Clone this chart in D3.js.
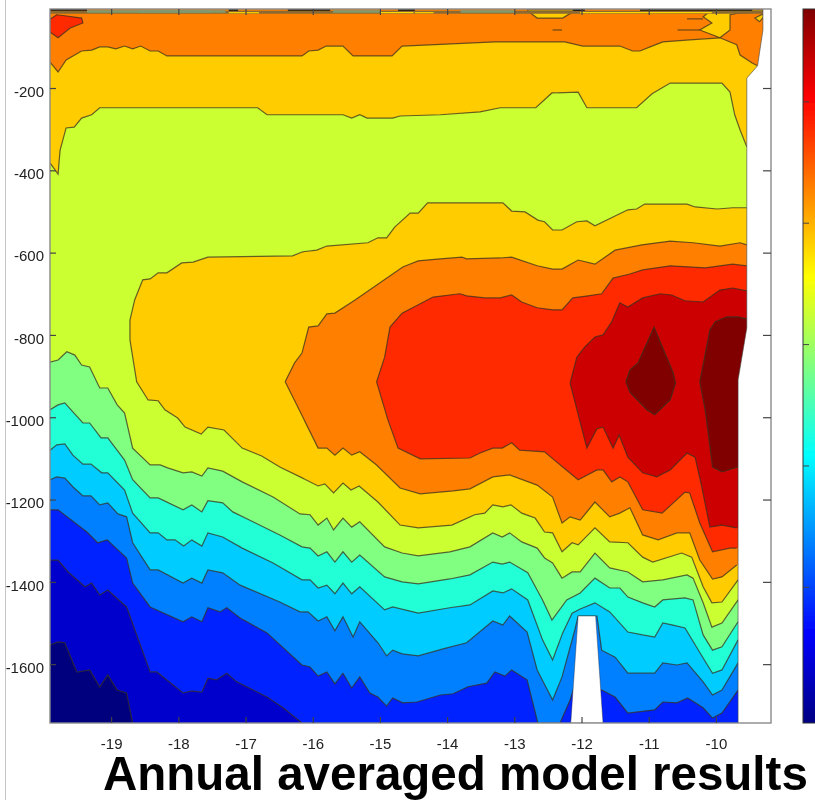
<!DOCTYPE html>
<html>
<head>
<meta charset="utf-8">
<title>Annual averaged model results</title>
<script src="https://cdn.jsdelivr.net/npm/d3@7"></script>
<style>
body { margin: 0; background: #fff; }
text { font-family: "Liberation Sans", Arial, sans-serif; fill: #222; }
</style>
</head>
<body>
<svg id="chart" width="815" height="800"></svg>
<script>
// longitude / depth of each contour
const lonTicks = [-19, -18, -17, -16, -15, -14, -13, -12, -11, -10];
const depthTicks = [-200, -400, -600, -800, -1000, -1200, -1400, -1600];

const orangeYellowTop = [[-19.91,-137],[-19.79,-161],[-19.67,-132],[-19.44,-110],[-19.29,-108],[-19.17,-100],[-19.05,-100],[-18.93,-105],[-18.80,-98],[-18.68,-105],[-18.56,-98],[-18.42,-110],[-18.30,-110],[-18.17,-122],[-16.16,-122],[-16.06,-110],[-15.92,-108],[-15.80,-98],[-15.55,-98],[-15.40,-122],[-14.82,-122],[-14.67,-98],[-13.29,-88],[-12.25,-88],[-11.98,-98],[-11.43,-98],[-11.24,-110],[-11.13,-110],[-10.98,-100],[-10.79,-88],[-10.39,-83],[-9.94,-78],[-9.69,-95],[-9.64,-120],[-9.46,-139],[-9.38,-146]];
const yellowLimeTop = [[-19.91,-382],[-19.79,-409],[-19.76,-351],[-19.67,-297],[-19.55,-295],[-19.44,-273],[-19.29,-265],[-19.17,-248],[-16.82,-248],[-16.68,-265],[-15.55,-265],[-15.42,-273],[-15.30,-265],[-15.19,-273],[-14.81,-273],[-14.70,-268],[-14.10,-265],[-13.51,-258],[-13.21,-248],[-12.68,-248],[-12.44,-212],[-12.05,-210],[-11.92,-248],[-11.18,-248],[-10.95,-214],[-10.68,-188],[-9.91,-188],[-9.79,-210],[-9.72,-265],[-9.64,-302],[-9.54,-343]];

const yellowCoreUpper = [[-18.72,-764],[-18.65,-715],[-18.53,-666],[-18.42,-664],[-18.30,-649],[-18.17,-649],[-17.95,-625],[-17.78,-623],[-17.56,-611],[-16.30,-608],[-16.15,-598],[-15.94,-594],[-15.79,-584],[-15.18,-576],[-15.03,-564],[-14.90,-564],[-14.78,-538],[-14.55,-504],[-14.43,-504],[-14.29,-479],[-13.17,-479],[-13.04,-499],[-12.84,-501],[-12.65,-521],[-12.55,-525],[-12.43,-545],[-12.29,-545],[-12.07,-525],[-11.92,-523],[-11.80,-535],[-11.31,-496],[-11.18,-494],[-11.06,-482],[-10.43,-482],[-10.31,-489],[-9.98,-494],[-9.75,-491],[-9.54,-491]];
const yellowCoreLower = [[-18.72,-764],[-18.72,-812],[-18.62,-914],[-18.45,-958],[-18.30,-960],[-18.20,-982],[-18.01,-1002],[-17.90,-1024],[-17.66,-1041],[-17.56,-1024],[-17.32,-1031],[-17.05,-1075],[-16.76,-1094],[-16.49,-1121],[-16.15,-1148],[-15.92,-1167],[-15.82,-1162],[-15.69,-1184],[-15.55,-1160],[-15.43,-1177],[-15.31,-1167],[-15.03,-1206],[-14.70,-1262],[-14.43,-1269],[-13.93,-1262],[-13.59,-1237],[-13.44,-1233],[-13.32,-1213],[-13.17,-1218],[-13.05,-1213],[-12.89,-1233],[-12.69,-1245],[-12.55,-1279],[-12.43,-1281],[-12.29,-1327],[-12.14,-1305],[-12.05,-1310],[-11.80,-1269],[-11.58,-1303],[-11.31,-1305],[-11.09,-1340],[-10.94,-1352],[-10.51,-1330],[-10.36,-1340],[-10.19,-1412],[-10.06,-1451],[-9.91,-1449],[-9.67,-1395]];

const orangeCoreUpper = [[-16.41,-914],[-16.27,-868],[-16.16,-844],[-16.06,-781],[-15.92,-778],[-15.79,-749],[-15.67,-747],[-15.37,-715],[-14.66,-635],[-14.43,-620],[-14.10,-615],[-13.78,-611],[-13.71,-615],[-13.21,-613],[-13.04,-611],[-12.66,-632],[-12.43,-640],[-12.29,-640],[-12.05,-618],[-11.80,-628],[-11.50,-594],[-11.10,-581],[-10.68,-572],[-10.34,-576],[-9.94,-584],[-9.64,-576],[-9.54,-581]];
const orangeCoreLower = [[-16.41,-914],[-16.15,-999],[-15.92,-1075],[-15.79,-1075],[-15.67,-1092],[-15.55,-1075],[-15.42,-1092],[-15.30,-1084],[-15.05,-1116],[-14.70,-1172],[-14.40,-1186],[-13.91,-1179],[-13.66,-1174],[-13.32,-1145],[-13.07,-1140],[-12.66,-1165],[-12.43,-1194],[-12.29,-1257],[-12.17,-1242],[-12.02,-1250],[-11.80,-1206],[-11.58,-1242],[-11.43,-1233],[-11.28,-1220],[-11.09,-1286],[-10.86,-1298],[-10.58,-1281],[-10.39,-1281],[-10.24,-1347],[-10.05,-1393],[-9.91,-1388],[-9.69,-1359]];

const redCoreUpper = [[-15.05,-914],[-14.93,-854],[-14.85,-781],[-14.67,-747],[-14.21,-708],[-13.81,-700],[-13.71,-705],[-13.44,-710],[-13.21,-710],[-13.04,-703],[-12.89,-720],[-12.66,-734],[-12.43,-739],[-12.29,-739],[-12.13,-710],[-11.90,-705],[-11.70,-700],[-11.53,-662],[-11.28,-652],[-11.09,-642],[-10.68,-632],[-10.16,-637],[-9.75,-628],[-9.54,-632]];
const redCoreLower = [[-15.05,-914],[-14.88,-1007],[-14.73,-1075],[-14.40,-1101],[-13.66,-1099],[-13.51,-1087],[-13.32,-1075],[-13.18,-1075],[-13.04,-1062],[-12.92,-1080],[-12.55,-1084],[-12.28,-1121],[-12.05,-1152],[-11.77,-1128],[-11.68,-1128],[-11.55,-1157],[-11.43,-1145],[-11.31,-1157],[-11.09,-1225],[-10.80,-1233],[-10.46,-1182],[-10.39,-1184],[-10.24,-1257],[-10.05,-1327],[-9.79,-1318],[-9.69,-1318]];

const darkRedUpper = [[-12.17,-917],[-12.07,-854],[-11.95,-829],[-11.80,-805],[-11.68,-800],[-11.55,-768],[-11.43,-722],[-11.31,-732],[-11.09,-710],[-10.83,-700],[-10.66,-703],[-10.46,-717],[-10.19,-720],[-9.94,-691],[-9.75,-686],[-9.54,-693]];
const darkRedLower = [[-12.17,-917],[-11.92,-1075],[-11.77,-1028],[-11.68,-1024],[-11.53,-1075],[-11.44,-1043],[-11.31,-1097],[-11.09,-1135],[-10.88,-1145],[-10.68,-1128],[-10.43,-1087],[-10.31,-1097],[-10.21,-1169],[-10.09,-1267],[-9.91,-1262],[-9.69,-1269]];

const maroonEastUpper = [[-10.24,-914],[-10.09,-788],[-10.01,-768],[-9.84,-756],[-9.67,-756],[-9.54,-761]];
const maroonEastLower = [[-10.24,-914],[-10.16,-982],[-10.05,-1121],[-9.91,-1133],[-9.67,-1121]];
const maroonWest = [[-10.92,-781],[-10.64,-890],[-10.60,-917],[-10.68,-958],[-10.91,-994],[-11.03,-982],[-11.28,-939],[-11.34,-914],[-11.28,-885],[-11.16,-868]];
const redPatch = [[-19.91,-33],[-19.81,-22],[-19.66,-25],[-19.44,-30],[-19.42,-42],[-19.61,-54],[-19.79,-78],[-19.91,-64]];

const limeGreen = [[-19.91,-866],[-19.79,-861],[-19.66,-841],[-19.54,-849],[-19.44,-873],[-19.32,-878],[-19.17,-929],[-19.05,-929],[-18.91,-970],[-18.80,-990],[-18.68,-1075],[-18.42,-1116],[-18.27,-1116],[-18.16,-1123],[-17.93,-1135],[-17.80,-1133],[-17.65,-1143],[-17.56,-1123],[-17.34,-1131],[-17.05,-1157],[-16.59,-1194],[-16.19,-1235],[-16.04,-1237],[-15.92,-1262],[-15.79,-1245],[-15.69,-1274],[-15.55,-1245],[-15.42,-1267],[-15.30,-1254],[-14.93,-1315],[-14.67,-1330],[-14.43,-1337],[-13.96,-1327],[-13.66,-1315],[-13.32,-1281],[-13.18,-1291],[-13.07,-1281],[-12.89,-1303],[-12.66,-1318],[-12.55,-1342],[-12.43,-1354],[-12.29,-1391],[-12.14,-1376],[-12.02,-1376],[-11.80,-1330],[-11.58,-1366],[-11.31,-1376],[-11.09,-1400],[-10.79,-1395],[-10.43,-1383],[-10.34,-1391],[-10.19,-1451],[-10.06,-1510],[-9.91,-1500],[-9.67,-1444]];
const greenTeal = [[-19.91,-982],[-19.79,-970],[-19.69,-965],[-19.57,-987],[-19.42,-1014],[-19.32,-1014],[-19.15,-1050],[-19.05,-1050],[-18.80,-1104],[-18.68,-1152],[-18.42,-1196],[-18.30,-1196],[-17.93,-1225],[-17.80,-1213],[-17.65,-1230],[-17.56,-1203],[-17.34,-1208],[-17.19,-1230],[-16.89,-1254],[-16.49,-1286],[-16.16,-1315],[-16.04,-1318],[-15.92,-1337],[-15.79,-1327],[-15.67,-1352],[-15.55,-1327],[-15.42,-1352],[-15.30,-1335],[-14.93,-1388],[-14.67,-1400],[-14.43,-1405],[-13.96,-1393],[-13.66,-1383],[-13.32,-1352],[-13.18,-1357],[-13.07,-1352],[-12.80,-1378],[-12.58,-1444],[-12.44,-1493],[-12.22,-1444],[-12.02,-1427],[-11.80,-1391],[-11.58,-1415],[-11.43,-1415],[-11.31,-1437],[-11.09,-1451],[-10.91,-1461],[-10.79,-1444],[-10.46,-1439],[-10.34,-1444],[-10.19,-1529],[-10.05,-1566],[-9.91,-1558],[-9.67,-1497]];
const tealCyan = [[-19.91,-1080],[-19.81,-1067],[-19.69,-1065],[-19.57,-1092],[-19.42,-1114],[-19.30,-1114],[-19.14,-1135],[-19.05,-1135],[-18.80,-1177],[-18.68,-1233],[-18.42,-1281],[-18.30,-1281],[-18.17,-1298],[-18.05,-1298],[-17.92,-1313],[-17.80,-1298],[-17.65,-1313],[-17.56,-1281],[-17.34,-1291],[-17.05,-1318],[-16.59,-1354],[-16.16,-1395],[-16.04,-1395],[-15.92,-1415],[-15.79,-1408],[-15.67,-1429],[-15.55,-1403],[-15.42,-1429],[-15.30,-1412],[-14.93,-1468],[-14.81,-1461],[-14.43,-1476],[-13.96,-1463],[-13.66,-1456],[-13.32,-1422],[-13.17,-1427],[-13.04,-1417],[-12.80,-1444],[-12.58,-1541],[-12.43,-1590],[-12.28,-1524],[-12.14,-1476],[-12.02,-1466],[-11.80,-1451],[-11.58,-1473],[-11.31,-1522],[-11.09,-1529],[-10.91,-1534],[-10.79,-1500],[-10.64,-1505],[-10.46,-1512],[-10.19,-1585],[-10.05,-1622],[-9.91,-1614],[-9.67,-1541]];
const cyanSky = [[-19.91,-1152],[-19.81,-1145],[-19.69,-1148],[-19.57,-1169],[-19.42,-1191],[-19.30,-1191],[-19.17,-1213],[-19.05,-1208],[-18.90,-1235],[-18.77,-1242],[-18.68,-1305],[-18.42,-1371],[-18.30,-1371],[-17.93,-1403],[-17.80,-1391],[-17.65,-1403],[-17.56,-1371],[-17.34,-1378],[-17.08,-1408],[-16.49,-1449],[-16.19,-1473],[-16.07,-1473],[-15.92,-1495],[-15.79,-1485],[-15.67,-1519],[-15.55,-1485],[-15.40,-1534],[-15.30,-1497],[-15.03,-1548],[-14.90,-1580],[-14.81,-1566],[-14.67,-1575],[-14.43,-1580],[-14.06,-1563],[-13.71,-1548],[-13.32,-1495],[-13.17,-1505],[-13.07,-1483],[-12.81,-1522],[-12.66,-1614],[-12.43,-1687],[-12.29,-1631],[-12.10,-1517],[-12.05,-1483],[-11.77,-1483],[-11.70,-1566],[-11.50,-1583],[-11.31,-1622],[-10.91,-1622],[-10.79,-1597],[-10.58,-1602],[-10.43,-1597],[-10.19,-1643],[-10.05,-1675],[-9.91,-1663],[-9.67,-1597]];
const skyBlue = [[-19.91,-1225],[-19.79,-1225],[-19.36,-1279],[-19.20,-1305],[-19.06,-1298],[-18.77,-1342],[-18.68,-1403],[-18.42,-1461],[-17.93,-1497],[-17.80,-1485],[-17.65,-1497],[-17.56,-1463],[-17.38,-1473],[-17.28,-1463],[-17.08,-1488],[-16.68,-1524],[-16.16,-1602],[-16.04,-1607],[-15.92,-1629],[-15.79,-1619],[-15.67,-1648],[-15.55,-1622],[-15.42,-1658],[-15.30,-1631],[-15.15,-1670],[-15.03,-1680],[-14.90,-1702],[-14.81,-1682],[-14.66,-1694],[-14.45,-1692],[-14.10,-1675],[-13.91,-1672],[-13.69,-1655],[-13.41,-1646],[-13.29,-1619],[-13.14,-1629],[-13.04,-1614],[-12.81,-1638],[-12.65,-1743],[-12.32,-1743],[-12.17,-1687],[-12.10,-1651],[-11.70,-1663],[-11.50,-1680],[-11.31,-1719],[-10.91,-1711],[-10.79,-1692],[-10.58,-1694],[-10.42,-1682],[-10.19,-1706],[-10.05,-1731],[-9.91,-1719],[-9.67,-1663]];
const blueDark = [[-19.91,-1347],[-19.79,-1347],[-19.64,-1376],[-19.39,-1412],[-19.29,-1403],[-19.17,-1432],[-19.05,-1420],[-18.77,-1461],[-18.42,-1619],[-18.32,-1619],[-17.93,-1670],[-17.80,-1665],[-17.65,-1668],[-17.56,-1634],[-17.43,-1638],[-17.28,-1622],[-17.13,-1643],[-16.68,-1680],[-16.44,-1706],[-16.16,-1743]];
const darkNavy = [[-19.91,-1553],[-19.79,-1546],[-19.69,-1548],[-19.51,-1619],[-19.32,-1614],[-19.17,-1655],[-19.05,-1626],[-18.91,-1663],[-18.77,-1670],[-18.68,-1743]];

const landEdge = [[-9.30,-8],[-9.30,-59],[-9.38,-146],[-9.54,-176],[-9.54,-783],[-9.67,-909],[-9.67,-1743]];
const seamount = [[-12.05,-1483],[-11.79,-1483],[-11.68,-1743],[-12.16,-1743]];

const yellowPocketTop = [[-12.80,-10],[-12.80,-13],[-12.66,-30],[-12.28,-30],[-12.13,-15],[-12.02,-10]];
const yellowPocketEast = [[-10.06,-10],[-10.19,-27],[-10.06,-42],[-10.24,-59],[-9.94,-78],[-9.79,-59],[-9.79,-22],[-9.67,-18],[-9.30,-15],[-9.30,-10]];
const yellowPocketSmall = [[-9.42,-30],[-9.35,-39],[-9.29,-27],[-9.30,-20]];
const shortContours = [
  [[-10.43,-32],[-10.19,-32]],
  [[-10.57,-59],[-10.24,-59]],
  [[-12.43,-59],[-12.29,-59]]
];
// strip of crowded contours along the surface: from lon, to lon
const surfaceBlack = [[-19.91,-19.36],[-17.25,-17.11],[-16.37,-15.74],[-14.73,-14.48],[-12.13,-11.95],[-11.13,-9.46]];
const surfaceGreen = [[-19.36,-17.52],[-18.6,-17.3],[-15.7,-15.0],[-13.8,-13.0]];
const surfaceYellow = [[-17.25,-16.8],[-15.0,-14.5],[-14.48,-14.2],[-12.02,-10.06]];

const jetOffsets = [0, 0.125, 0.375, 0.625, 0.875, 1];
const jetColors = ["#000083", "#0000ff", "#00ffff", "#ffff00", "#ff0000", "#800000"];
const colorbarTicks = [0.19, 0.36, 0.53, 0.70, 0.87];

const plot = { left: 50, right: 771, top: 9, bottom: 723 };
const lonMin = -19.91, lonMax = -9.18, depthTop = -8, depthBottom = -1743;

const x = d3.scaleLinear().domain([lonMin, lonMax]).range([plot.left, plot.right]);
const y = d3.scaleLinear().domain([depthTop, depthBottom]).range([plot.top, plot.bottom]);
const cbarY = d3.scaleLinear().domain([0, 1]).range([plot.bottom, plot.top]);

const line = d3.line().x(d => x(d[0])).y(d => y(d[1]));
const closed = d3.line().x(d => x(d[0])).y(d => y(d[1])).curve(d3.curveLinearClosed);

const svg = d3.select("#chart");

const defs = svg.append("defs");
defs.append("clipPath").attr("id", "plotClip").append("rect")
  .attr("x", plot.left).attr("y", plot.top)
  .attr("width", plot.right - plot.left).attr("height", plot.bottom - plot.top);
// the reference is a soft, upscaled image
defs.append("filter").attr("id", "soft").append("feGaussianBlur").attr("stdDeviation", 0.55);
const grad = defs.append("linearGradient").attr("id", "jet")
  .attr("x1", 0).attr("y1", 1).attr("x2", 0).attr("y2", 0);
jetOffsets.forEach((o, i) => {
  grad.append("stop").attr("offset", o).attr("stop-color", jetColors[i]);
});

const root = svg.append("g").attr("filter", "url(#soft)");

root.append("line")
  .attr("x1", 5.5).attr("x2", 5.5).attr("y1", 0).attr("y2", 800)
  .attr("stroke", "#c4c4c4").attr("stroke-width", 1);

const field = root.append("g").attr("clip-path", "url(#plotClip)");
const contourColor = "#3a3020";

field.append("rect")
  .attr("x", plot.left).attr("y", plot.top)
  .attr("width", plot.right - plot.left).attr("height", plot.bottom - plot.top)
  .attr("fill", "#ff8000");

function drawLine(pts) {
  field.append("path").attr("d", line(pts))
    .attr("fill", "none").attr("stroke", contourColor)
    .attr("stroke-width", 1.2).attr("stroke-opacity", 0.75);
}

// everything below a contour gets the band colour
function fillBelow(pts, color) {
  const last = pts[pts.length - 1];
  const area = pts.concat([[lonMax, last[1]], [lonMax, depthBottom], [lonMin, depthBottom]]);
  field.append("path").attr("d", closed(area)).attr("fill", color);
  drawLine(pts);
}

// band open towards the coast, bounded by an upper and a lower contour
function fillCore(upper, lower, color) {
  const area = upper.concat([[lonMax, upper[upper.length - 1][1]], [lonMax, lower[lower.length - 1][1]]], lower.slice().reverse());
  field.append("path").attr("d", closed(area)).attr("fill", color);
  drawLine(upper);
  drawLine(lower);
}

function fillClosed(pts, color) {
  field.append("path").attr("d", closed(pts)).attr("fill", color)
    .attr("stroke", contourColor).attr("stroke-width", 1.2).attr("stroke-opacity", 0.75);
}

fillClosed(redPatch, "#ff2a00");
fillBelow(orangeYellowTop, "#ffcc00");
fillBelow(yellowLimeTop, "#ccff33");

fillCore(yellowCoreUpper, yellowCoreLower, "#ffcc00");
fillCore(orangeCoreUpper, orangeCoreLower, "#ff8000");
fillCore(redCoreUpper, redCoreLower, "#ff2a00");
fillCore(darkRedUpper, darkRedLower, "#cc0000");
fillCore(maroonEastUpper, maroonEastLower, "#800000");
fillClosed(maroonWest, "#800000");

fillBelow(limeGreen, "#80ff80");
fillBelow(greenTeal, "#22ffd6");
fillBelow(tealCyan, "#00ccff");
fillBelow(cyanSky, "#0080ff");
fillBelow(skyBlue, "#0022ff");
fillBelow(blueDark, "#0000cc");
fillBelow(darkNavy, "#00007f");

fillClosed(yellowPocketTop, "#ffcc00");
fillClosed(yellowPocketEast, "#ffcc00");
fillClosed(yellowPocketSmall, "#ffcc00");
shortContours.forEach(drawLine);

// surface strip
field.append("line")
  .attr("x1", x(lonMin)).attr("x2", x(lonMax)).attr("y1", y(-16)).attr("y2", y(-16))
  .attr("stroke", "#8a6a30").attr("stroke-width", 3);
function surfaceSegments(list, color, depth, width) {
  field.selectAll(null).data(list).enter().append("line")
    .attr("x1", d => x(d[0])).attr("x2", d => x(d[1]))
    .attr("y1", y(depth)).attr("y2", y(depth))
    .attr("stroke", color).attr("stroke-width", width);
}
surfaceSegments(surfaceGreen, "#7f9a72", -14, 2.5);
surfaceSegments(surfaceBlack, "#111", -10, 2);
surfaceSegments(surfaceYellow, "#ffd800", -17, 1.2);

// land and seamount
const landArea = landEdge.concat([[lonMax, depthBottom], [lonMax, depthTop]]);
field.append("path").attr("d", closed(landArea)).attr("fill", "#fff");
field.append("path").attr("d", line(landEdge)).attr("fill", "none")
  .attr("stroke", "#444").attr("stroke-width", 1).attr("stroke-opacity", 0.6);
field.append("path").attr("d", closed(seamount)).attr("fill", "#fff")
  .attr("stroke", "#223").attr("stroke-width", 0.8).attr("stroke-opacity", 0.5);

// frame
root.append("rect")
  .attr("x", plot.left).attr("y", plot.top)
  .attr("width", plot.right - plot.left).attr("height", plot.bottom - plot.top)
  .attr("fill", "none").attr("stroke", "#8a8a8a").attr("stroke-width", 1.4);

// axes
const axisFont = g => {
  g.select(".domain").remove();
  g.selectAll(".tick line").attr("stroke", "#444").attr("stroke-width", 1.2);
  g.selectAll(".tick text").attr("font-size", 15).attr("fill", "#222")
    .style("font-family", '"Liberation Sans", Arial, sans-serif');
};

// plain hyphen as in the reference, not d3's unicode minus
const plainLabel = d => String(d);

root.append("g").attr("transform", `translate(0,${plot.bottom})`)
  .call(d3.axisBottom(x).tickValues(lonTicks).tickFormat(plainLabel).tickSizeInner(-6).tickSizeOuter(0).tickPadding(15))
  .call(axisFont);
root.append("g").attr("transform", `translate(0,${plot.top})`)
  .call(d3.axisTop(x).tickValues(lonTicks).tickFormat("").tickSizeInner(-6).tickSizeOuter(0))
  .call(axisFont);
root.append("g").attr("transform", `translate(${plot.left},0)`)
  .call(d3.axisLeft(y).tickValues(depthTicks).tickFormat(plainLabel).tickSizeInner(-6).tickSizeOuter(0).tickPadding(6))
  .call(axisFont)
  .selectAll(".tick text").attr("dy", "0.55em");
root.append("g").attr("transform", `translate(${plot.right},0)`)
  .call(d3.axisRight(y).tickValues(depthTicks).tickFormat("").tickSizeInner(-8).tickSizeOuter(0))
  .call(axisFont);

// colorbar
root.append("rect")
  .attr("x", 803).attr("y", plot.top).attr("width", 14).attr("height", plot.bottom - plot.top)
  .attr("fill", "url(#jet)").attr("stroke", "#333").attr("stroke-width", 1);
root.selectAll(null).data(colorbarTicks).enter().append("line")
  .attr("x1", 803).attr("x2", 809)
  .attr("y1", d => cbarY(d)).attr("y2", d => cbarY(d))
  .attr("stroke", "#444").attr("stroke-width", 1);

// title
root.append("text")
  .attr("x", 103).attr("y", 790)
  .attr("font-size", 47.5).attr("font-weight", "bold").attr("fill", "#000")
  .style("fill", "#000")
  .text("Annual averaged model results");
</script>
</body>
</html>
